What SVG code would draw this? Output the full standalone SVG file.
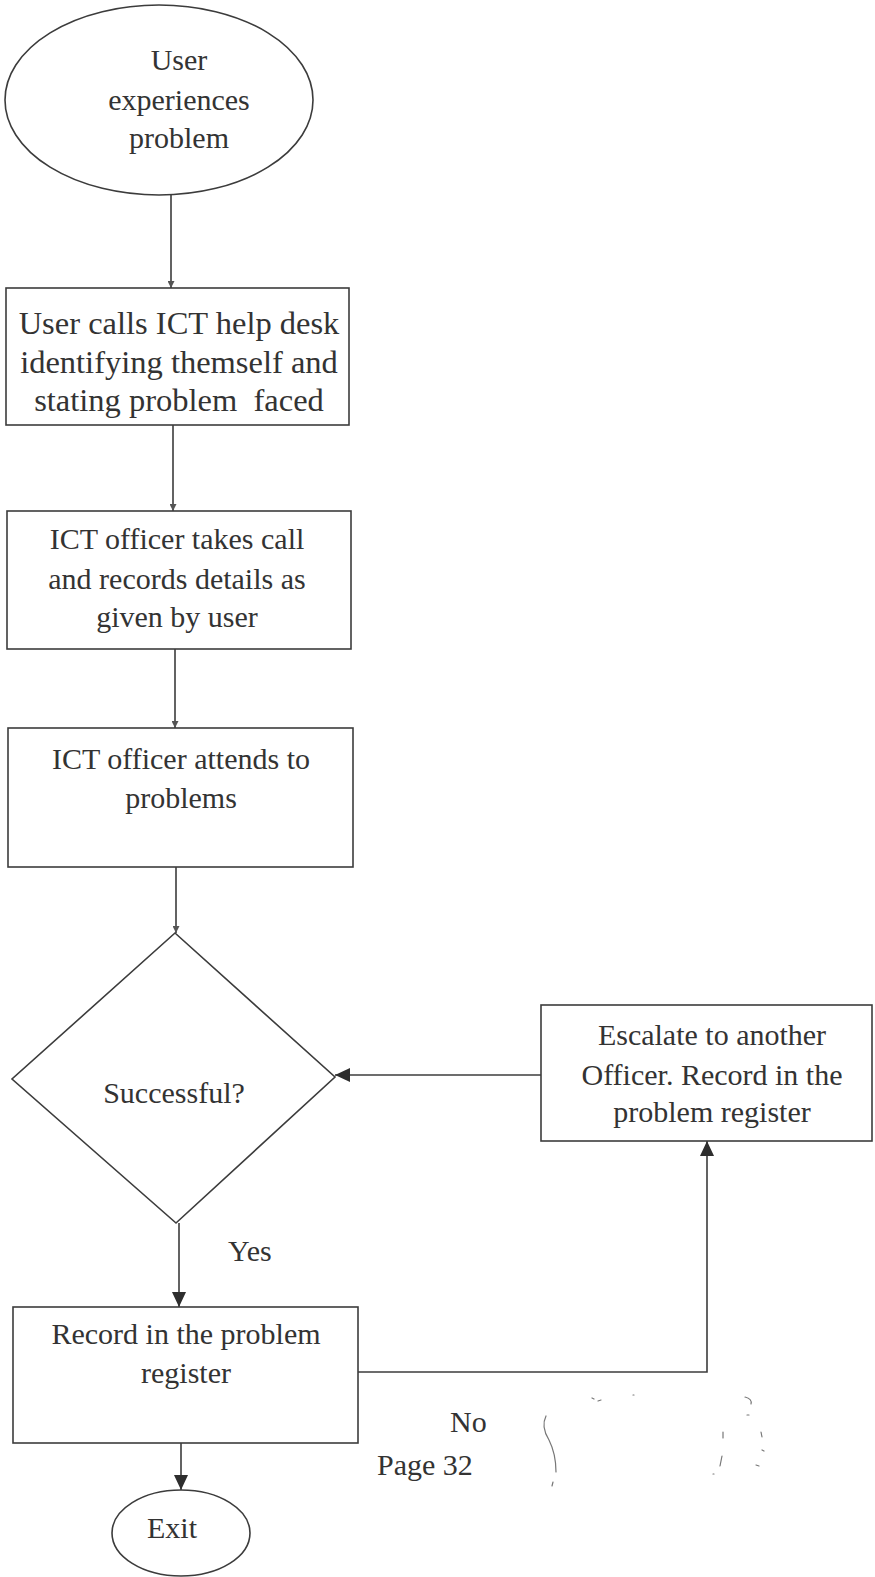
<svg xmlns="http://www.w3.org/2000/svg" width="875" height="1577" viewBox="0 0 875 1577">
  <style>
    .shape { fill: none; stroke: #3c3c3c; stroke-width: 1.6; }
    .wire { fill: none; stroke: #3c3c3c; stroke-width: 1.6; }
    .label { font-family: "Liberation Serif", "Times New Roman", serif; font-size: 30px; fill: #333333; text-anchor: middle; }
    .label.wide { font-size: 32.5px; }
    .free { font-family: "Liberation Serif", "Times New Roman", serif; font-size: 30px; fill: #333333; }
    .speck { fill: none; stroke: #777777; stroke-width: 1.2; stroke-linecap: round; }
  </style>
  <defs>
    <marker id="tip-small" viewBox="0 0 10 10" refX="10" refY="5" markerWidth="7" markerHeight="7" markerUnits="userSpaceOnUse" orient="auto">
      <path d="M0,0 L10,5 L0,10 z" fill="#555555"/>
    </marker>
    <marker id="tip" viewBox="0 0 10 10" refX="10" refY="5" markerWidth="15" markerHeight="14" markerUnits="userSpaceOnUse" orient="auto" preserveAspectRatio="none">
      <path d="M0,0 L10,5 L0,10 z" fill="#2e2e2e"/>
    </marker>
  </defs>
  <rect width="875" height="1577" fill="#ffffff"/>

  <!-- connectors -->
  <g id="connectors">
    <line class="wire" x1="171" y1="195" x2="171" y2="288" marker-end="url(#tip-small)"/>
    <line class="wire" x1="173" y1="425" x2="173" y2="511" marker-end="url(#tip-small)"/>
    <line class="wire" x1="175" y1="649" x2="175" y2="728" marker-end="url(#tip-small)"/>
    <line class="wire" x1="176" y1="867" x2="176" y2="933" marker-end="url(#tip-small)"/>
    <line class="wire" x1="541" y1="1075" x2="335" y2="1075" marker-end="url(#tip)"/>
    <line class="wire" x1="179" y1="1223" x2="179" y2="1307" marker-end="url(#tip)"/>
    <polyline class="wire" points="358,1372 707,1372 707,1141" marker-end="url(#tip)"/>
    <line class="wire" x1="181" y1="1443" x2="181" y2="1490" marker-end="url(#tip)"/>
  </g>

  <!-- start: user experiences problem -->
  <g id="start">
    <ellipse class="shape" cx="159" cy="100" rx="154" ry="95"/>
    <text class="label" x="179" y="70">User</text>
    <text class="label" x="179" y="110">experiences</text>
    <text class="label" x="179" y="148">problem</text>
  </g>

  <g id="call-helpdesk">
    <rect class="shape" x="6" y="288" width="343" height="137"/>
    <text class="label wide" x="179" y="334">User calls ICT help desk</text>
    <text class="label wide" x="179" y="373">identifying themself and</text>
    <text class="label wide" x="179" y="411" xml:space="preserve">stating problem  faced</text>
  </g>

  <g id="take-call">
    <rect class="shape" x="7" y="511" width="344" height="138"/>
    <text class="label" x="177" y="549">ICT officer takes call</text>
    <text class="label" x="177" y="589">and records details as</text>
    <text class="label" x="177" y="627">given by user</text>
  </g>

  <g id="attend">
    <rect class="shape" x="8" y="728" width="345" height="139"/>
    <text class="label" x="181" y="769">ICT officer attends to</text>
    <text class="label" x="181" y="808">problems</text>
  </g>

  <g id="decision">
    <polygon class="shape" points="175,933 335,1077 176,1223 12,1079"/>
    <text class="label" x="174" y="1103">Successful?</text>
  </g>

  <g id="escalate">
    <rect class="shape" x="541" y="1005" width="331" height="136"/>
    <text class="label" x="712" y="1045">Escalate to another</text>
    <text class="label" x="712" y="1085">Officer. Record in the</text>
    <text class="label" x="712" y="1122">problem register</text>
  </g>

  <g id="record">
    <rect class="shape" x="13" y="1307" width="345" height="136"/>
    <text class="label" x="186" y="1344">Record in the problem</text>
    <text class="label" x="186" y="1383">register</text>
  </g>

  <g id="exit">
    <ellipse class="shape" cx="181" cy="1533" rx="69" ry="43"/>
    <text class="label" x="172" y="1538">Exit</text>
  </g>

  <g id="edge-labels">
    <text class="free" x="228" y="1261">Yes</text>
    <text class="free" x="450" y="1432">No</text>
    <text class="free" x="377" y="1475">Page 32</text>
  </g>

  <!-- stray ink marks near the page footer -->
  <g id="marks">
    <path class="speck" d="M546,1416 C542,1424 544,1432 549,1440 C554,1450 556,1460 556,1472 M553,1482 L552,1486"/>
    <path class="speck" d="M592,1398 L594,1399 M598,1401 L601,1400 M633,1395 L634,1395"/>
    <path class="speck" d="M745,1397 C750,1398 752,1401 751,1404 M747,1415 L749,1415"/>
    <path class="speck" d="M723,1432 L723,1438 M722,1456 L720,1466 M713,1474 L714,1474"/>
    <path class="speck" d="M761,1432 L762,1437 M762,1450 L764,1451 M756,1465 L759,1466"/>
  </g>
</svg>
